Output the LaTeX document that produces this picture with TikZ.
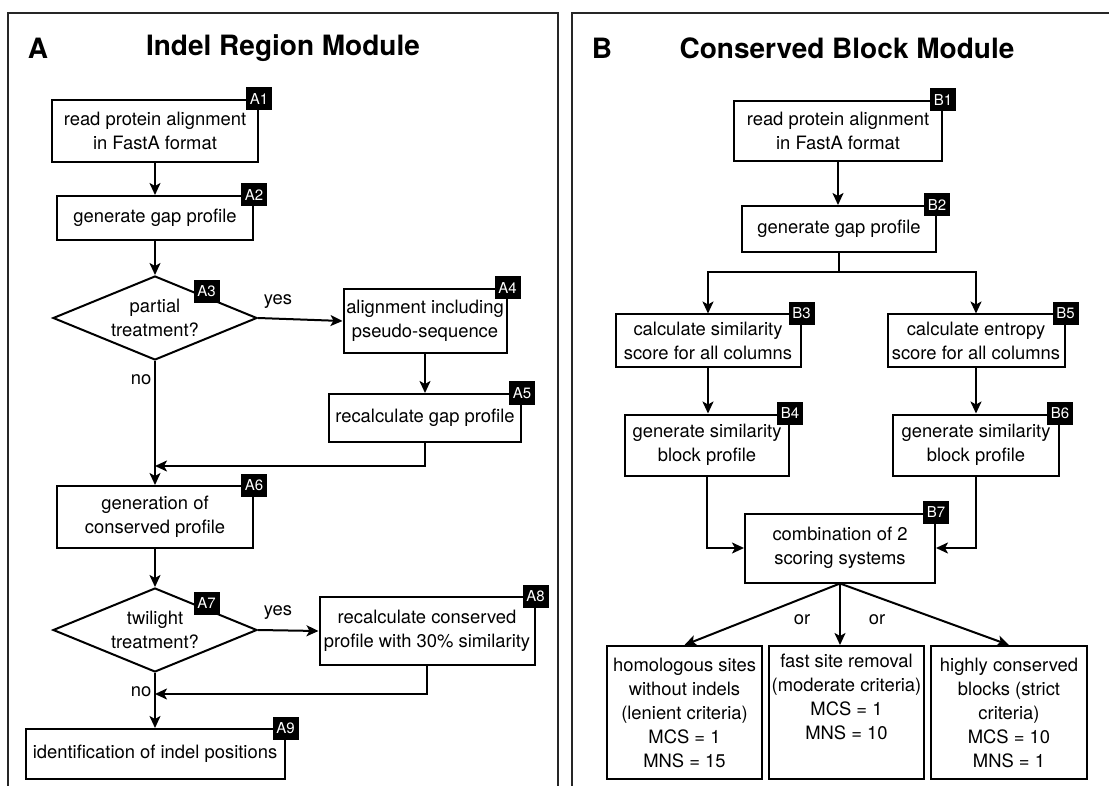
\documentclass[tikz,border=0pt]{standalone}
\usepackage{fontspec}
\setmainfont{TeX Gyre Heros}
\usetikzlibrary{shapes.geometric,arrows.meta,calc}
\begin{document}
\begin{tikzpicture}[x=1pt,y=-1pt,
  box/.style={draw,line width=2pt,inner sep=0pt,align=center,font=\fontsize{18.4}{24}\selectfont},
  dia/.style={draw,diamond,line width=2pt,inner sep=0pt,minimum width=204pt,minimum height=84pt,
    label={[align=center,font=\fontsize{18.4}{24}\selectfont]center:#1}},
  tag/.style={fill=black,text=white,inner sep=0pt,minimum width=26pt,minimum height=23pt,font=\fontsize{15}{15}\selectfont},
  arr/.style={-{Stealth[length=12pt,width=11pt,inset=3pt]},line width=2pt},
  ln/.style={line width=2pt},
  lbl/.style={font=\fontsize{18.4}{24}\selectfont,inner sep=0pt},
  ttl/.style={font=\bfseries\fontsize{28}{30}\selectfont,inner sep=0pt},
  panel/.style={line width=2.2pt,draw=black!85}
]
\useasboundingbox (0,0) rectangle (1109,786);
\clip (0,0) rectangle (1109,786);
\fill[white] (0,0) rectangle (1109,786);

% panels
\draw[panel] (8,800) -- (8,13) -- (558,13) -- (558,800);
\draw[panel] (572,800) -- (572,13) -- (1120,13) -- (1120,800);

\node[ttl] (tA) at (38,48) {A};
\node[ttl] (tAt) at (283,48) {Indel Region Module};
\node[ttl] (tB) at (602,48) {B};
\node[ttl] (tBt) at (847,48) {Conserved Block Module};

% ---------- Panel A ----------
\node[box,minimum width=206pt,minimum height=62pt] (A1) at (155,131) {read protein alignment\\in FastA format};
\node[box,minimum width=196pt,minimum height=44pt] (A2) at (155,218) {generate gap profile};
\node[dia={partial\\treatment?}] (A3) at (155,318) {};
\node[box,minimum width=163pt,minimum height=64pt] (A4) at (425,321) {alignment including\\pseudo-sequence};
\node[box,minimum width=192pt,minimum height=48pt] (A5) at (425,418) {recalculate gap profile};
\node[box,minimum width=196pt,minimum height=62pt] (A6) at (155,517) {generation of\\conserved profile};
\node[dia={twilight\\treatment?}] (A7) at (155,630) {};
\node[box,minimum width=215pt,minimum height=68pt] (A8) at (427,631) {recalculate conserved\\profile with 30\% similarity};
\node[box,minimum width=259pt,minimum height=50pt] (A9) at (155,754) {identification of indel positions};

\node[tag] (tA1) at (A1.north east) {A1};
\node[tag] (tA2) at (A2.north east) {A2};
\node[tag] (tA3) at ($(A3.north)!0.5!(A3.east)+(0,-5)$) {A3};
\node[tag] (tA4) at (A4.north east) {A4};
\node[tag] (tA5) at (A5.north east) {A5};
\node[tag] (tA6) at (A6.north east) {A6};
\node[tag] (tA7) at ($(A7.north)!0.5!(A7.east)+(0,-5)$) {A7};
\node[tag] (tA8) at (A8.north east) {A8};
\node[tag] (tA9) at (A9.north east) {A9};

\coordinate (m1) at (155,466);
\coordinate (m2) at (155,694);

\draw[arr] (A1.south) -- (A2.north);
\draw[arr] (A2.south) -- (A3.north);
\draw[arr] (A3.east) -- (A4.west);
\draw[arr] (A4.south) -- (A4.south |- A5.north);
\draw[arr] (A5.south) |- (m1);
\draw[arr] (A3.south) -- (A6.north);
\draw[arr] (A6.south) -- (A7.north);
\draw[arr] (A7.east) -- (A8.west);
\draw[arr] (A8.south) |- (m2);
\draw[arr] (A7.south) -- (A9.north);

\node[lbl] (yes1) at (278,302) {yes};
\node[lbl] (no1) at (141,380) {no};
\node[lbl] (yes2) at (278,613) {yes};
\node[lbl] (no2) at (141,692) {no};

% ---------- Panel B ----------
\node[box,minimum width=208pt,minimum height=60pt] (B1) at (838,131) {read protein alignment\\in FastA format};
\node[box,minimum width=194pt,minimum height=46pt] (B2) at (839,229) {generate gap profile};
\node[box,minimum width=185pt,minimum height=53pt] (B3) at (708,341) {calculate similarity\\score for all columns};
\node[box,minimum width=177pt,minimum height=53pt] (B5) at (976,341) {calculate entropy\\score for all columns};
\node[box,minimum width=164pt,minimum height=61pt] (B4) at (707,445) {generate similarity\\block profile};
\node[box,minimum width=166pt,minimum height=61pt] (B6) at (976,445) {generate similarity\\block profile};
\node[box,minimum width=190pt,minimum height=69pt] (B7) at (840,548) {combination of 2\\scoring systems};
\node[box,minimum width=155pt,minimum height=133pt] (C1) at (684.5,712.5) {homologous sites\\without indels\\(lenient criteria)\\MCS = 1\\MNS = 15};
\node[box,minimum width=155pt,minimum height=133pt] (C2) at (846.5,712.5) {fast site removal\\(moderate criteria)\\MCS = 1\\MNS = 10\\\strut};
\node[box,minimum width=156pt,minimum height=133pt] (C3) at (1009,712.5) {highly conserved\\blocks (strict\\criteria)\\MCS = 10\\MNS = 1};

\node[tag] (tB1) at (B1.north east) {B1};
\node[tag] (tB2) at (B2.north east) {B2};
\node[tag] (tB3) at (B3.north east) {B3};
\node[tag] (tB4) at (B4.north east) {B4};
\node[tag] (tB5) at (B5.north east) {B5};
\node[tag] (tB6) at (B6.north east) {B6};
\node[tag] (tB7) at (B7.north east) {B7};

\coordinate (s) at (839,272);
\draw[arr] (B1.south) -- (B1.south |- B2.north);
\draw[ln] (B2.south) -- (s);
\draw[arr] (s) -| (B3.north);
\draw[arr] (s) -| (B5.north);
\draw[arr] (B3.south) -- (B3.south |- B4.north);
\draw[arr] (B5.south) -- (B5.south |- B6.north);
\draw[arr] (B4.south) |- (B7.west);
\draw[arr] (B6.south) |- (B7.east);
\draw[arr] (B7.south) -- (C1.north);
\draw[arr] (B7.south) -- (B7.south |- C2.north);
\draw[arr] (B7.south) -- (C3.north);

\node[lbl] (or1) at (802,620) {or};
\node[lbl] (or2) at (877,620) {or};
\end{tikzpicture}
\end{document}
